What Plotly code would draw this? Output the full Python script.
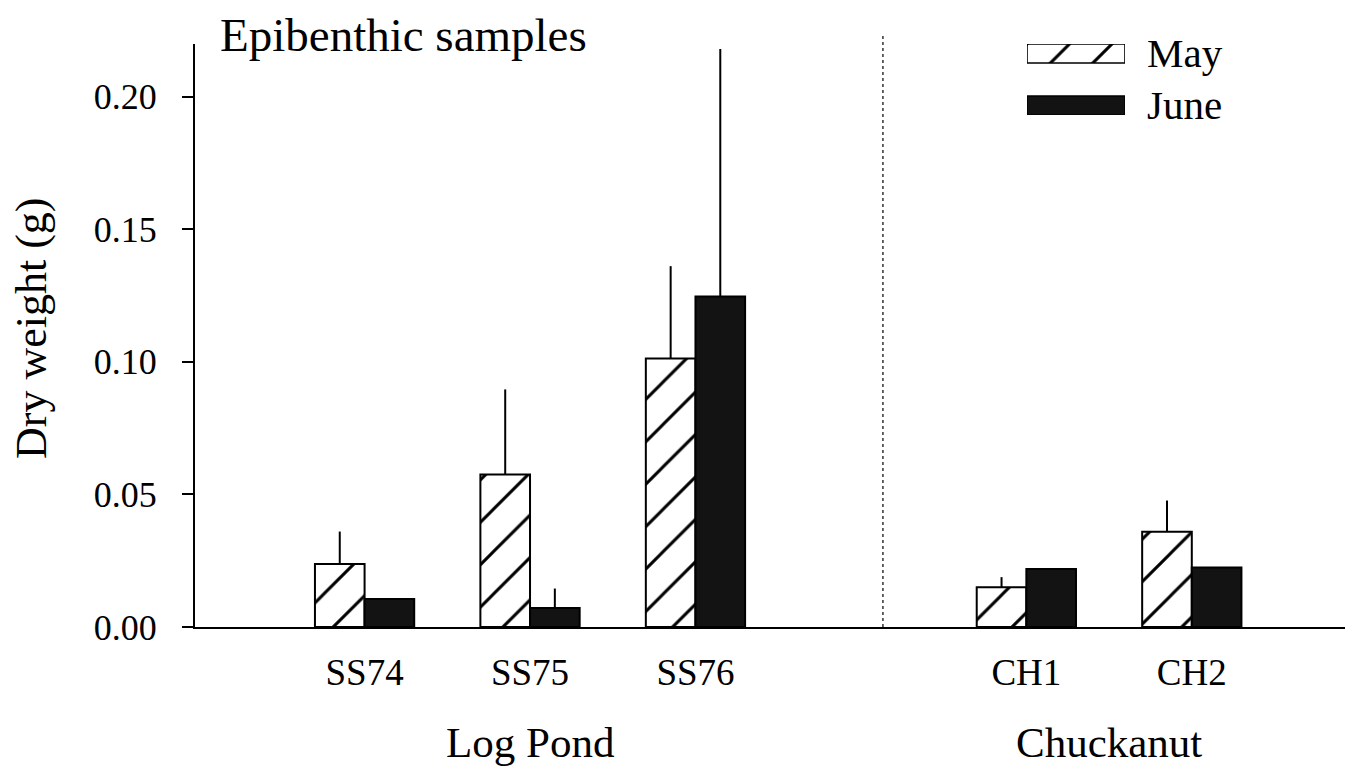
import plotly.graph_objects as go

# Sampling sites along the shoreline
sites = ["SS74", "SS75", "SS76", "CH1", "CH2"]
site_pos = [1, 2, 3, 5, 6]          # gap left between the two localities
groups = ["Log Pond", "Chuckanut"]

# Mean dry weight (g) and upper standard error by month
may_mean = [0.0238, 0.0575, 0.1013, 0.0150, 0.0359]
may_err = [0.0122, 0.0321, 0.0348, 0.0038, 0.0118]
june_mean = [0.0106, 0.0072, 0.1246, 0.0219, 0.0224]
june_err = [0.0, 0.0073, 0.0934, 0.0, 0.0]

yticks = [0.00, 0.05, 0.10, 0.15, 0.20]
ytick_text = ["0.00", "0.05", "0.10", "0.15", "0.20"]

SERIF = "Liberation Serif, Times New Roman, serif"
BAR_W = 0.3
hatch = dict(shape="/", size=30, solidity=0.1, fgcolor="black",
             fgopacity=1, bgcolor="white", fillmode="overlay")
june_fill = "#131313"

W, H = 1353, 774
M = dict(l=195, r=8, t=44, b=147)
plot_h = H - M["t"] - M["b"]
plot_w = W - M["l"] - M["r"]


def py(pix):
    """Paper y coordinate for a pixel row."""
    return (H - M["b"] - pix) / plot_h


def px(pix):
    """Paper x coordinate for a pixel column."""
    return (pix - M["l"]) / plot_w


fig = go.Figure()

fig.add_trace(go.Bar(
    x=site_pos, y=may_mean, width=BAR_W, offset=-BAR_W, name="May",
    marker=dict(color="white", pattern=hatch, line=dict(color="black", width=2)),
    error_y=dict(type="data", symmetric=False, array=may_err,
                 arrayminus=[0] * len(may_err), width=0, thickness=2,
                 color="black"),
    showlegend=False,
))
fig.add_trace(go.Bar(
    x=site_pos, y=june_mean, width=BAR_W, offset=0, name="June",
    marker=dict(color=june_fill, line=dict(color="black", width=2)),
    error_y=dict(type="data", symmetric=False, array=june_err,
                 arrayminus=[0] * len(june_err), width=0, thickness=2,
                 color="black"),
    showlegend=False,
))

# Legend swatches drawn as small bars on their own axes
fig.add_trace(go.Bar(
    x=[1], y=[1], orientation="h", width=0.365, xaxis="x2", yaxis="y2",
    marker=dict(color="white", pattern=hatch, line=dict(color="black", width=1.6)),
    showlegend=False, hoverinfo="skip",
))
fig.add_trace(go.Bar(
    x=[1], y=[0], orientation="h", width=0.365, xaxis="x2", yaxis="y2",
    marker=dict(color=june_fill, line=dict(color="black", width=1.6)),
    showlegend=False, hoverinfo="skip",
))

fig.update_layout(
    width=W, height=H, margin=M,
    paper_bgcolor="white", plot_bgcolor="white",
    font=dict(family=SERIF, color="black"),
    barmode="overlay",
    xaxis=dict(
        range=[-0.025, 6.926], tickvals=site_pos, ticktext=sites,
        showgrid=False, zeroline=False, showline=True, linecolor="black",
        linewidth=2, ticks="", tickfont=dict(size=37, family=SERIF),
        ticklabelstandoff=12,
    ),
    yaxis=dict(
        range=[0, plot_h / 2651.5], tickvals=yticks, ticktext=ytick_text,
        showgrid=False, zeroline=False, showline=True, linecolor="black",
        linewidth=2, ticks="outside", ticklen=11, tickwidth=2,
        tickcolor="black", tickfont=dict(size=36, family=SERIF),
        ticklabelstandoff=18,
    ),
    xaxis2=dict(domain=[px(1027), px(1125)], range=[0, 1], visible=False,
                anchor="y2", fixedrange=True),
    yaxis2=dict(domain=[py(115), py(44)], range=[-0.183, 1.183],
                visible=False, anchor="x2", fixedrange=True),
)

# Divider between the two localities
fig.add_shape(type="line", xref="x", yref="paper", x0=4.133, x1=4.133,
              y0=0, y1=py(33), line=dict(color="#333333", width=1.5, dash="dot"))

annotations = [
    dict(text="Epibenthic samples", x=px(218), y=py(35), xanchor="left",
         yanchor="middle", font=dict(size=47)),
    dict(text="May", x=px(1145), y=py(53), xanchor="left", yanchor="middle",
         font=dict(size=41)),
    dict(text="June", x=px(1145), y=py(105), xanchor="left", yanchor="middle",
         font=dict(size=41)),
    dict(text="Dry weight (g)", x=px(31), y=py(328), textangle=-90,
         xanchor="center", yanchor="middle", font=dict(size=44)),
]
group_x = [sum(site_pos[:3]) / 3, sum(site_pos[3:]) / 2]
for name, gx in zip(groups, group_x):
    annotations.append(dict(text=name, x=gx, xref="x", y=py(742),
                            xanchor="center", yanchor="middle",
                            font=dict(size=43)))
for a in annotations:
    a.setdefault("xref", "paper")
    a["yref"] = "paper"
    a["showarrow"] = False
fig.update_layout(annotations=annotations)

fig.write_html("out.html")
